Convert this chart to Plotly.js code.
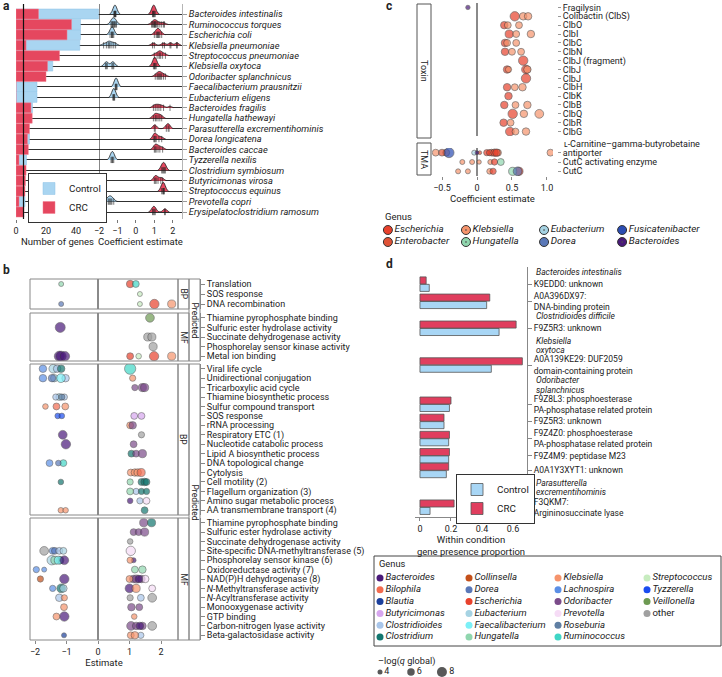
<!DOCTYPE html>
<html><head><meta charset="utf-8">
<script src="https://cdn.plot.ly/plotly-3.0.1.min.js"></script>
<style>html,body{margin:0;padding:0;background:#fff}#chart{width:722px;height:677px}</style>
</head><body><div id="chart"></div>
<script>
const W = 722, H = 677;
const px = v => v / W, py = v => 1 - v / H;

// ---------- Panel a ----------
const aSpecies = ['Bacteroides intestinalis','Ruminococcus torques','Escherichia coli','Klebsiella pneumoniae','Streptococcus pneumoniae','Klebsiella oxytoca','Odoribacter splanchnicus','Faecalibacterium prausnitzii','Eubacterium eligens','Bacteroides fragilis','Hungatella hathewayi','Parasutterella excrementihominis','Dorea longicatena','Bacteroides caccae','Tyzzerella nexilis','Clostridium symbiosum','Butyricimonas virosa','Streptococcus equinus','Prevotella copri','Erysipelatoclostridium ramosum'];
const aControlGenes = [55,43,43,42.5,0,24.5,0,14,14,11,0,0,9,0,7,0,0,0,6,0];
const aCRCGenes = [15,37,34,6.7,29,21,20,0,0,10,10.8,9,7.6,8.2,2,6.7,6.3,6,2,5.3];
const aControlEst = [
  [-1.2,-1.15,-1.13,-1.1,-1.08,-1.12,-1.16],
  [-1.35,-1.3,-1.25,-1.2,-1.15,-1.1,-1.05,-1.28,-1.18],
  [-1.4,-1.32,-1.28,-1.25,-1.2,-1.3],
  [-1.75,-1.6,-1.5,-1.4,-1.3,-1.2,-1.1,-1.45],
  [],
  [-1.65,-1.6,-1.55,-1.3,-1.25,-1.2],
  [],
  [-1.12,-1.08,-1.05,-1.1,-1.02],
  [-1.25,-1.2,-1.17,-1.22,-1.15],
  [],[],[],[],[],
  [-1.35,-1.3,-1.25,-1.2,-1.28],
  [],[],[],
  [-1.6,-1.5,-1.45,-1.4,-1.35,-1.3,-1.2],
  []
];
const aCRCEst = [
  [0.9,0.95,1.0,0.98,1.05,0.93],
  [0.85,0.9,0.95,1.0,1.05,1.1,1.15,1.2,1.3,1.4,1.5,1.55,1.0,1.05],
  [1.0,1.1,1.15,1.2,1.25,1.3,1.4,1.2],
  [0.9,1.0,1.45,1.55,1.85,1.9,2.2,2.25],
  [1.0,1.15,1.25,1.3,1.35,1.45,1.6],
  [0.95,1.0,1.05,1.02,1.1],
  [1.05,1.15,1.2,1.3,1.35,1.4,1.5,1.6,1.25],
  [],[],
  [0.95,1.05,1.15,1.25,1.35,1.5,1.85],
  [0.95,1.05,1.1,1.2,1.3,1.4],
  [1.0,1.05,1.65,1.75,1.8],
  [0.98,1.0,1.05,1.1,1.25,1.4],
  [1.0,1.05,1.1,1.2,1.3,1.45],
  [],
  [1.4,1.45,1.5,1.55,1.6],
  [1.0,1.05,1.1,1.2,1.35,1.45],
  [1.4,1.45,1.5,1.55,1.5],
  [],
  [0.9,0.95,1.0,1.05,1.55,1.6]
];
const aGeneTicks = [0,20,40];
const aCoefTicks = [-2,-1,0,1,2];
const aGeneThreshold = 5;

// ---------- Panel b ----------
const bRowsPredBP = ['Translation','SOS response','DNA recombination'];
const bRowsPredMF = ['Thiamine pyrophosphate binding','Sulfuric ester hydrolase activity','Succinate dehydrogenase activity','Phosphorelay sensor kinase activity','Metal ion binding'];
const bRowsBP = ['Viral life cycle','Unidirectional conjugation','Tricarboxylic acid cycle','Thiamine biosynthetic process','Sulfur compound transport','SOS response','rRNA processing','Respiratory ETC (1)','Nucleotide catabolic process','Lipid A biosynthetic process','DNA topological change','Cytolysis','Cell motility (2)','Flagellum organization (3)','Amino sugar metabolic process','AA transmembrane transport (4)'];
const bRowsMF = ['Thiamine pyrophosphate binding','Sulfuric ester hydrolase activity','Succinate dehydrogenase activity','Site-specific DNA-methyltransferase (5)','Phosphorelay sensor kinase (6)','Oxidoreductase activity (7)','NAD(P)H dehydrogenase (8)','<i>N</i>-Methyltransferase activity','<i>N</i>-Acyltransferase activity','Monooxygenase activity','GTP binding','Carbon-nitrogen lyase activity','Beta-galactosidase activity'];
// [row index, estimate, genus, -log(q global)]
const bPtsPredBP = [[0,-1.17,'Hungatella',4],[0,1.02,'Escherichia',6],[0,1.2,'Ruminococcus',5.5],[1,1.33,'Streptococcus',4],[2,-1.17,'Dorea',4],[2,1.33,'Streptococcus',4],[2,1.79,'Escherichia',7.5],[2,2.34,'Klebsiella',6.5]];
const bPtsPredMF = [[0,1.65,'Veillonella',7],[1,-1.2,'Bacteroides',8],[2,1.58,'other',6.5],[2,1.71,'other',6.5],[3,1.75,'other',6.5],[4,-1.23,'Bacteroides',8],[4,-1.17,'Bacteroides',8],[4,-1.05,'Bacteroides',7.5],[4,1.02,'Escherichia',5.5],[4,1.29,'Streptococcus',4.5],[4,1.78,'Escherichia',7.5],[4,2.34,'Klebsiella',6.5]];
const bPtsBP = [[0,-1.75,'Lachnospira',6],[0,-1.42,'Eubacterium',7],[0,-1.3,'Clostridioides',6],[0,-1.17,'Clostridium',6],[0,1.02,'Ruminococcus',9],
 [1,-1.75,'Lachnospira',6],[1,-1.46,'Dorea',6],[1,-1.39,'Eubacterium',6],[1,-1.18,'Faecalibacterium',7],[1,-1.03,'Clostridioides',6],[1,1.1,'Klebsiella',5],
 [2,1.17,'Odoribacter',5],[2,1.41,'Odoribacter',6.5],[2,1.48,'Odoribacter',6.5],
 [3,-1.34,'Clostridioides',5],[3,-1.23,'Eubacterium',5.5],[3,-1.15,'Roseburia',5],[3,-1.07,'Clostridioides',5],
 [4,-1.67,'Klebsiella',4.5],[4,-1.32,'Bilophila',5.5],[4,-1.04,'Klebsiella',5.5],
 [5,-1.28,'Tyzzerella',4.5],[5,-1.15,'Tyzzerella',4.5],[5,1.15,'Butyricimonas',5.5],[5,1.38,'Butyricimonas',5.5],
 [6,1.02,'Klebsiella',5.5],[6,1.1,'Odoribacter',6],
 [7,-1.12,'Bacteroides',7],[7,1.38,'other',5],
 [8,-1.02,'Bacteroides',7.5],[8,1.13,'Odoribacter',5.5],
 [9,1.06,'Clostridium',5.5],[9,1.21,'Odoribacter',5.5],[9,1.41,'Odoribacter',6.5],
 [10,-1.54,'Lachnospira',5.5],[10,-1.26,'Dorea',4.5],[10,-1.1,'Ruminococcus',5.5],
 [11,1.04,'Klebsiella',5.5],[11,1.17,'Klebsiella',6],[11,1.26,'Klebsiella',6],[11,1.37,'Bilophila',6.5],
 [12,-1.18,'Clostridium',4.5],[12,1.02,'Hungatella',5],[12,1.38,'Clostridium',5.5],[12,1.48,'Clostridium',6],[12,1.54,'Clostridium',5.5],
 [13,1.02,'Hungatella',5.5],[13,1.21,'Clostridioides',5],[13,1.38,'Clostridium',5],[13,1.54,'Clostridium',5],
 [14,1.02,'Bacteroides',4.5],[14,1.33,'Clostridioides',5],[14,1.54,'Prevotella',5.5],
 [15,-1.18,'Klebsiella',4.5],[15,-1.03,'Klebsiella',4.5],[15,1.48,'Clostridium',5.5]];
const bPtsMF = [[0,1.45,'Odoribacter',6.5],[0,1.7,'Clostridium',6.5],
 [1,1.13,'Odoribacter',5.5],[1,1.29,'Odoribacter',5.5],[1,1.48,'Odoribacter',6.5],
 [2,1.02,'other',4.5],
 [3,-1.71,'other',7],[3,-1.44,'Lachnospira',5.5],[3,-1.37,'Dorea',5.5],[3,-1.23,'Clostridioides',5.5],[3,-1.1,'Eubacterium',5.5],[3,1.04,'Prevotella',7.5],
 [4,-1.47,'Eubacterium',7.5],[4,-1.37,'Hungatella',6.5],[4,-1.26,'Faecalibacterium',6.5],[4,-1.2,'Clostridium',6],[4,-1.07,'Bacteroides',7],[4,1.02,'Klebsiella',5],[4,1.13,'Bacteroides',4],
 [5,-1.96,'Lachnospira',5],[5,-1.71,'Lachnospira',4],[5,1.17,'Hungatella',5.5],[5,1.41,'Hungatella',6],
 [6,-1.83,'Collinsella',5],[6,-1.07,'Bacteroides',7.5],[6,1.0,'Klebsiella',5.5],[6,1.12,'Odoribacter',6],[6,1.22,'Odoribacter',6.5],[6,1.3,'Bacteroides',6],[6,1.38,'Odoribacter',6],[6,1.5,'Prevotella',6],
 [7,-1.44,'Lachnospira',5],[7,-1.17,'Clostridium',7],[7,-1.1,'Eubacterium',6],[7,1.0,'Bacteroides',7],[7,1.21,'Klebsiella',6.5],[7,1.72,'Prevotella',5.5],
 [8,-1.23,'Clostridioides',6],[8,-1.07,'Klebsiella',5],[8,1.02,'other',5],[8,1.36,'Clostridioides',5.5],[8,1.72,'other',7],
 [9,-1.08,'Klebsiella',5.5],[9,1.06,'Odoribacter',6],[9,1.31,'Odoribacter',5.5],
 [10,-1.32,'Klebsiella',5.5],[10,-1.07,'Bacteroides',7.5],[10,1.15,'Klebsiella',4.5],
 [11,1.05,'Odoribacter',7],[11,1.21,'Odoribacter',6],[11,1.33,'Bacteroides',6],[11,1.41,'Odoribacter',6],[11,1.72,'other',7],
 [12,-1.08,'Blautia',4],[12,1.04,'Klebsiella',5.5],[12,1.17,'Klebsiella',6],[12,1.36,'Clostridioides',5]];
const bTicks = [-2,-1,0,1,2];
const bGenusOrder = ['Bacteroides','Bilophila','Blautia','Butyricimonas','Clostridioides','Clostridium','Collinsella','Dorea','Escherichia','Eubacterium','Faecalibacterium','Hungatella','Klebsiella','Lachnospira','Odoribacter','Prevotella','Roseburia','Ruminococcus','Streptococcus','Tyzzerella','Veillonella','other'];
const sizeLegendVals = [4,6,8];

// ---------- Panel c ----------
const cRowsToxin = ['Fragilysin','Colibactin (ClbS)','ClbO','ClbI','ClbC','ClbN','ClbJ (fragment)','ClbJ','ClbJ','ClbH','ClbK','ClbB','ClbQ','ClbR','ClbG'];
const cRowsTMA = ['ʟ-Carnitine–gamma-butyrobetaine<br>antiporter','CutC activating enzyme','CutC'];
const cPtsToxin = [[0,-0.13,'Bacteroides',3.5],
 [1,0.54,'Escherichia',7.5],[1,0.66,'Klebsiella',6],[1,0.73,'Klebsiella',6],
 [2,0.39,'Escherichia',6],[2,0.44,'Klebsiella',5.5],[2,0.6,'Klebsiella',5.5],
 [3,0.46,'Escherichia',6.5],[3,0.56,'Klebsiella',5.5],[3,0.77,'Klebsiella',6],
 [4,0.40,'Escherichia',6],[4,0.43,'Klebsiella',5.5],[4,0.56,'Klebsiella',5.5],
 [5,0.40,'Escherichia',6],[5,0.50,'Klebsiella',5.5],[5,0.63,'Klebsiella',5.5],
 [6,0.66,'Escherichia',7.5],
 [7,0.43,'Escherichia',6],[7,0.45,'Klebsiella',5],[7,0.72,'Klebsiella',6],[7,0.70,'Escherichia',7],
 [8,0.70,'Escherichia',7.5],
 [9,0.43,'Escherichia',6],[9,0.54,'Klebsiella',5.5],[9,0.65,'Klebsiella',6],
 [10,0.45,'Escherichia',6],
 [11,0.39,'Escherichia',6],[11,0.55,'Klebsiella',5.5],[11,0.72,'Klebsiella',6],
 [12,0.51,'Escherichia',7.5],[12,0.67,'Klebsiella',6],[12,0.89,'Klebsiella',7],
 [13,0.38,'Escherichia',6],[13,0.48,'Klebsiella',5.5],
 [14,0.47,'Escherichia',7],[14,0.55,'Klebsiella',5.5],[14,0.70,'Klebsiella',6]];
const cPtsTMA = [[0,-0.59,'Klebsiella',5.5],[0,-0.5,'Enterobacter',5.5],[0,-0.44,'Klebsiella',5.5],[0,-0.40,'Fusicatenibacter',8],[0,-0.04,'Eubacterium',4],[0,0.0,'Bacteroides',3],[0,0.04,'Enterobacter',3],[0,0.14,'Escherichia',5],[0,0.18,'Escherichia',5],[0,0.21,'Klebsiella',5.5],[0,0.25,'Escherichia',6],[0,0.28,'Escherichia',6],[0,0.30,'Klebsiella',5.5],[0,1.05,'Klebsiella',5.5],
 [1,-0.21,'Klebsiella',4],[1,-0.07,'Klebsiella',4],[1,0.03,'Klebsiella',3.5],[1,0.19,'Klebsiella',4],[1,0.25,'Escherichia',5],[1,0.34,'Hungatella',5.5],
 [2,-0.27,'Klebsiella',4],[2,-0.13,'Klebsiella',4],[2,0.18,'Klebsiella',4.5],[2,0.23,'Escherichia',5],[2,0.51,'Hungatella',6.5],[2,0.58,'Dorea',7],[2,0.6,'Escherichia',6.5]];
const cTicks = [-0.5,0,0.5,1];
const cTickText = ['−0.5','0','0.5','1.0'];
const cGenusOrder = ['Escherichia','Enterobacter','Klebsiella','Hungatella','Eubacterium','Dorea','Fusicatenibacter','Bacteroides'];
const cGenusDotted = ['Klebsiella','Hungatella','Eubacterium','Bacteroides'];

// ---------- Panel d ----------
const dSpecies = ['Bacteroides intestinalis','Clostridioides difficile','Klebsiella<br>oxytoca','Odoribacter<br>splanchnicus','Parasutterella<br>excrementihominis'];
const dGeneSpecies = [0,0,1,2,3,3,3,3,3,4];
const dGeneLabels = ['K9EDD0: unknown','A0A396DX97:<br>DNA-binding protein','F9Z5R3: unknown','A0A139KE29: DUF2059<br>domain-containing protein','F9Z8L3: phosphoesterase<br>PA-phosphatase related protein','F9Z5R3: unknown','F9Z4Z0: phosphoesterase<br>PA-phosphatase related protein','F9Z4M9: peptidase M23','A0A1Y3XYT1: unknown','F3QKM7:<br>Argininosuccinate lyase'];
const dControl = [0.06,0.43,0.51,0.46,0.19,0.155,0.185,0.185,0.17,0.065];
const dCRC = [0.04,0.45,0.62,0.66,0.20,0.155,0.19,0.19,0.185,0.22];
const dTicks = [0,0.2,0.4,0.6];
const dTickText = ['0','0.2','0.4','0.6'];

// ---------- styles ----------
const genusColors = {Bacteroides:'#4a1a7a',Bilophila:'#f26b4f',Blautia:'#1b3f9c',Butyricimonas:'#d7a6ef',Clostridioides:'#a9c6ea',Clostridium:'#12766f',Collinsella:'#c4501a',Dorea:'#5a78b8',Escherichia:'#e8412c',Eubacterium:'#a6d3e3',Faecalibacterium:'#7cf0f7',Hungatella:'#90d6ae',Klebsiella:'#f6946c',Lachnospira:'#5b8fe6',Odoribacter:'#7b4b8a',Prevotella:'#f6dcf6',Roseburia:'#5f7fa3',Ruminococcus:'#3fd6c6',Streptococcus:'#c7ecbf',Tyzzerella:'#1a4cf0',Veillonella:'#6d9a52',other:'#a0a0a0',Enterobacter:'#df5236',Fusicatenibacter:'#2b4db3'};
const CTRL = '#a9d5f1', CRCc = '#e5475f';
const sizePx = s => s * 1.25;
const ital = g => g === 'other' ? g : '<i>' + g + '</i>';

const traces = [];
// a: bars
traces.push({type:'bar',orientation:'h',x:aControlGenes,y:aSpecies,xaxis:'x',yaxis:'y',name:'Control',legend:'legend',width:0.96,marker:{color:CTRL,line:{color:'#8fc3e6',width:0.5}},hoverinfo:'skip'});
traces.push({type:'bar',orientation:'h',x:aCRCGenes,y:aSpecies,xaxis:'x',yaxis:'y',name:'CRC',legend:'legend',width:0.96,marker:{color:CRCc,line:{color:'#f07f91',width:0.5}},hoverinfo:'skip'});
// a: ridges
function flatten(groups){const x=[],y=[];groups.forEach((g,i)=>g.forEach(v=>{x.push(v);y.push(aSpecies[i]);}));return {x,y};}
[[aControlEst,CTRL],[aCRCEst,CRCc]].forEach(([grp,col])=>{
  const f = flatten(grp);
  traces.push({type:'violin',orientation:'h',x:f.x,y:f.y,xaxis:'x2',yaxis:'y',side:'negative',width:1.7,scalemode:'width',bandwidth:0.1,
    fillcolor:col,line:{color:'#1a1a1a',width:0.8},points:'all',pointpos:0,jitter:0,
    marker:{symbol:'line-ns-open',size:4.5,color:'#222',line:{color:'#222',width:0.6}},showlegend:false,hoverinfo:'skip'});
});
// b: dots
const bFacets = [[bRowsPredBP,bPtsPredBP,'y3'],[bRowsPredMF,bPtsPredMF,'y4'],[bRowsBP,bPtsBP,'y5'],[bRowsMF,bPtsMF,'y6']];
bFacets.forEach(([rows,pts,ya])=>{
  const byG = {};
  pts.forEach(p=>{(byG[p[2]] = byG[p[2]] || []).push(p);});
  Object.keys(byG).forEach(g=>{
    const ps = byG[g];
    traces.push({type:'scatter',mode:'markers',x:ps.map(p=>p[1]),y:ps.map(p=>rows[p[0]]),xaxis:'x3',yaxis:ya,
      marker:{color:genusColors[g],size:ps.map(p=>sizePx(p[3])),line:{color:'#333',width:0.6}},showlegend:false,hoverinfo:'skip'});
  });
});
// b: genus key (4 columns x 6 rows)
traces.push({type:'scatter',mode:'markers+text',x:bGenusOrder.map((g,i)=>Math.floor(i/6)),y:bGenusOrder.map((g,i)=>i%6),xaxis:'x10',yaxis:'y10',
  text:bGenusOrder.map(ital),textposition:'middle right',textfont:{size:9.6,color:'#222'},cliponaxis:false,
  marker:{color:bGenusOrder.map(g=>genusColors[g]),size:7,line:{width:0}},showlegend:false,hoverinfo:'skip'});
// b: size key
traces.push({type:'scatter',mode:'markers+text',x:sizeLegendVals.map((s,i)=>i),y:sizeLegendVals.map(()=>0),xaxis:'x11',yaxis:'y11',
  text:sizeLegendVals.map(String),textposition:'middle right',textfont:{size:9,color:'#222'},cliponaxis:false,
  marker:{color:'#111',size:sizeLegendVals.map(sizePx),line:{width:0}},showlegend:false,hoverinfo:'skip'});
// c: dots
const cToxIds = cRowsToxin.map((r,i)=>'t'+i), cTmaIds = cRowsTMA.map((r,i)=>'m'+i);
[[cToxIds,cPtsToxin,'y7'],[cTmaIds,cPtsTMA,'y8']].forEach(([ids,pts,ya])=>{
  const byG = {};
  pts.forEach(p=>{(byG[p[2]] = byG[p[2]] || []).push(p);});
  Object.keys(byG).forEach(g=>{
    const ps = byG[g];
    traces.push({type:'scatter',mode:'markers',x:ps.map(p=>p[1]),y:ps.map(p=>ids[p[0]]),xaxis:'x7',yaxis:ya,
      marker:{color:genusColors[g],size:ps.map(p=>sizePx(p[3])),line:{color:'#333',width:0.7}},showlegend:false,hoverinfo:'skip'});
  });
});
// c: genus key (4 columns x 2 rows)
traces.push({type:'scatter',mode:'markers+text',x:cGenusOrder.map((g,i)=>Math.floor(i/2)),y:cGenusOrder.map((g,i)=>i%2),xaxis:'x12',yaxis:'y12',
  text:cGenusOrder.map(ital),textposition:'middle right',textfont:{size:9.9,color:'#222'},cliponaxis:false,
  marker:{color:cGenusOrder.map(g=>genusColors[g]),size:9,symbol:cGenusOrder.map(g=>cGenusDotted.includes(g)?'circle-dot':'circle'),line:{color:'#333',width:1}},showlegend:false,hoverinfo:'skip'});
// d: bars (row positions computed from the number of text lines of each label)
const dGenePos = [], dHeaderLines = [];
let cursor = 0, prev = -1;
dGeneSpecies.forEach((s,i)=>{
  if(s!==prev){
    dSpecies[s].split('<br>').forEach(t=>{dHeaderLines.push({text:t, y:cursor+0.5}); cursor += 1;});
    prev = s;
  }
  const n = Math.max(dGeneLabels[i].split('<br>').length, 1.5);
  dGenePos.push(cursor+n/2); cursor += n;
});
const dTotal = cursor;
traces.push({type:'bar',orientation:'h',x:dControl,y:dGenePos,xaxis:'x9',yaxis:'y9',name:'Control',legend:'legend2',offset:0.02,width:0.72,
  marker:{color:'#a8d6f5',line:{color:'#555',width:0.8}},hoverinfo:'skip'});
traces.push({type:'bar',orientation:'h',x:dCRC,y:dGenePos,xaxis:'x9',yaxis:'y9',name:'CRC',legend:'legend2',offset:-0.74,width:0.72,
  marker:{color:'#e03e5e',line:{color:'#555',width:0.8}},hoverinfo:'skip'});

// ---------- layout ----------
const gridFont = {size:9};
const catAxis = (rows, top, bottom, extra) => Object.assign({domain:[py(bottom),py(top)],type:'category',categoryorder:'array',categoryarray:rows,
  range:[rows.length-0.5,-0.5],showgrid:false,zeroline:false,ticks:'outside',ticklen:4,tickcolor:'#888',tickmode:'array',tickvals:rows},extra);
const bY = (rows, top, bottom) => catAxis(rows, top, bottom, {anchor:'free',position:px(200),side:'right',showline:true,linecolor:'#888',linewidth:1,tickfont:{size:9}});
const cY = (ids, labels, top, bottom) => catAxis(ids, top, bottom, {anchor:'free',position:px(557),side:'right',showline:false,ticklen:3,tickcolor:'#999',tickvals:ids,ticktext:labels,tickfont:{size:9}});
const hidden = (dom, rng) => ({domain:dom,range:rng,visible:false,fixedrange:true});

const shapes = [];
const line = {color:'#888',width:1};
shapes.push({type:'line',xref:'x',x0:aGeneThreshold,x1:aGeneThreshold,yref:'y domain',y0:0,y1:1,line:{color:'#111',width:1.2}});
shapes.push({type:'line',xref:'x2',x0:-2,x1:-2,yref:'y domain',y0:0,y1:1,line:{color:'#111',width:1}});
['y3','y4','y5','y6'].forEach(ya=>{
  shapes.push({type:'rect',xref:'x3 domain',x0:0,x1:1,yref:ya+' domain',y0:0,y1:1,line:line,layer:'above'});
  shapes.push({type:'rect',xref:'paper',x0:px(178),x1:px(189),yref:ya+' domain',y0:0,y1:1,line:line});
});
shapes.push({type:'rect',xref:'paper',x0:px(189),x1:px(200),yref:'paper',y0:py(361),y1:py(279),line:line});
shapes.push({type:'rect',xref:'paper',x0:px(189),x1:px(200),yref:'paper',y0:py(640),y1:py(364),line:line});
shapes.push({type:'rect',xref:'paper',x0:px(417),x1:px(431),yref:'paper',y0:py(138),y1:py(4),line:{color:'#555',width:1}});
shapes.push({type:'rect',xref:'paper',x0:px(417),x1:px(431),yref:'paper',y0:py(175),y1:py(143),line:{color:'#555',width:1}});
shapes.push({type:'rect',xref:'paper',x0:px(374),x1:px(721),yref:'paper',y0:py(646),y1:py(556),line:{color:'#444',width:1}});

const ann = [];
const A = (text,x,y,o) => ann.push(Object.assign({text,x:px(x),y:py(y),xref:'paper',yref:'paper',showarrow:false,xanchor:'left',yanchor:'middle',font:{size:9}},o||{}));
A('<b>a</b>',1,6,{font:{size:12}});
A('<b>b</b>',1,270,{font:{size:12}});
A('<b>c</b>',384,6,{font:{size:12}});
A('<b>d</b>',384,264,{font:{size:12}});
A('BP',183.5,294,{xanchor:'center',textangle:90,font:{size:8.5}});
A('MF',183.5,337,{xanchor:'center',textangle:90,font:{size:8.5}});
A('BP',183.5,439.5,{xanchor:'center',textangle:90,font:{size:8.5}});
A('MF',183.5,579,{xanchor:'center',textangle:90,font:{size:8.5}});
A('Predicted',194.5,320,{xanchor:'center',textangle:90,font:{size:8.5}});
A('Predicted',194.5,502,{xanchor:'center',textangle:90,font:{size:8.5}});
A('Toxin',424,71,{xanchor:'center',textangle:90,font:{size:9}});
A('TMA',424,159,{xanchor:'center',textangle:90,font:{size:9}});
A('Genus',383,216,{font:{size:9.5}});
A('Genus',377,563,{font:{size:9.3}});
A('–log(<i>q</i> global)',376,661,{font:{size:9.2}});
// c: first line of the two-line TMA label sits above its tick
const tmaParts = cRowsTMA.map(l=>l.split('<br>'));
tmaParts.forEach((parts,i)=>{
  if(parts.length>1) ann.push({text:parts.slice(0,-1).join('<br>'),x:px(562),xref:'paper',y:cTmaIds[i],yref:'y8',yshift:9,showarrow:false,xanchor:'left',yanchor:'middle',font:{size:9}});
});
dHeaderLines.forEach(h=>{
  ann.push({text:h.text,x:px(534),xref:'paper',y:h.y,yref:'y9',showarrow:false,xanchor:'left',yanchor:'middle',font:{size:8.5,style:'italic'}});
});

const legBase = {bgcolor:'#ffffff',bordercolor:'#333',borderwidth:1,font:{size:9.8},xanchor:'left',yanchor:'top',itemclick:false,itemdoubleclick:false};
const layout = {
  width:W,height:H,margin:{l:0,r:0,t:0,b:0,autoexpand:false},paper_bgcolor:'#fff',plot_bgcolor:'rgba(0,0,0,0)',
  font:{family:'Roboto, "Liberation Sans", sans-serif',size:9,color:'#222'},
  barmode:'overlay',violinmode:'overlay',violingap:0,hovermode:false,showlegend:true,
  xaxis:{domain:[px(16),px(99)],range:[0,55.3],anchor:'y',tickvals:aGeneTicks,ticks:'outside',ticklen:3,tickcolor:'#777',showgrid:false,zeroline:false,showline:false,tickfont:gridFont,title:{text:'Number of genes',font:{size:9.5},standoff:3}},
  xaxis2:{domain:[px(99),px(182)],range:[-2,2.5],anchor:'y',tickvals:aCoefTicks,ticks:'outside',ticklen:3,tickcolor:'#777',showgrid:false,zeroline:false,showline:false,tickfont:gridFont,title:{text:'Coefficient estimate',font:{size:9.5},standoff:3}},
  yaxis:{domain:[py(219),py(4)],type:'category',categoryorder:'array',categoryarray:aSpecies,range:[19.67,-0.96],anchor:'x2',side:'right',showline:true,linecolor:'#b5b5b5',linewidth:1,
    tickmode:'array',tickvals:aSpecies,ticks:'outside',ticklen:4,tickcolor:'#999',showgrid:true,gridcolor:'#1a1a1a',gridwidth:0.9,zeroline:false,tickfont:{size:9.3,style:'italic'}},
  xaxis3:{domain:[px(30),px(178)],range:[-2.16,2.54],anchor:'y6',tickvals:bTicks,ticks:'outside',ticklen:3,tickcolor:'#888',showgrid:false,zeroline:true,zerolinecolor:'#8a8a8a',zerolinewidth:1.6,showline:false,tickfont:gridFont,title:{text:'Estimate',font:{size:9.5},standoff:3}},
  yaxis3:bY(bRowsPredBP,279,309),
  yaxis4:bY(bRowsPredMF,313,361),
  yaxis5:bY(bRowsBP,364,515),
  yaxis6:bY(bRowsMF,518,640),
  xaxis7:{domain:[px(432),px(553)],range:[-0.643,1.086],anchor:'y8',tickvals:cTicks,ticktext:cTickText,ticks:'outside',ticklen:3,tickcolor:'#888',showgrid:false,zeroline:true,zerolinecolor:'#8a8a8a',zerolinewidth:1.6,showline:false,tickfont:gridFont,title:{text:'Coefficient estimate',font:{size:9.5},standoff:3}},
  yaxis7:cY(cToxIds,cRowsToxin,3,136),
  yaxis8:cY(cTmaIds,tmaParts.map(p=>p[p.length-1]),148,176),
  xaxis9:{domain:[px(415),px(527)],range:[-0.032,0.69],anchor:'y9',tickvals:dTicks,ticktext:dTickText,ticks:'outside',ticklen:3,tickcolor:'#888',showgrid:false,zeroline:false,showline:true,linecolor:'#888',linewidth:1,tickfont:gridFont,title:{text:'Within condition<br>gene presence proportion',font:{size:9.5},standoff:3}},
  yaxis9:{domain:[py(517),py(267)],range:[dTotal,0],anchor:'x9',side:'right',showline:true,linecolor:'#888',linewidth:1,showgrid:false,zeroline:false,
    ticks:'outside',ticklen:4,tickcolor:'#888',tickmode:'array',tickvals:dGenePos,ticktext:dGeneLabels,tickfont:{size:8.5}},
  xaxis10:hidden([px(376),px(720)],[-0.045,3.82]),
  yaxis10:hidden([py(646),py(572)],[5.76,-0.51]),
  xaxis11:hidden([px(376),px(480)],[-0.13,3.23]),
  yaxis11:hidden([py(677),py(667)],[-1,1]),
  xaxis12:hidden([px(384),px(715)],[-0.05,4.19]),
  yaxis12:hidden([py(248),py(224)],[1.5,-0.5]),
  legend:Object.assign({},legBase,{x:px(28),y:py(173)}),
  legend2:Object.assign({},legBase,{x:px(456),y:py(474)}),
  shapes:shapes,annotations:ann
};
Plotly.newPlot('chart',traces,layout,{staticPlot:true,displayModeBar:false});
</script></body></html>
